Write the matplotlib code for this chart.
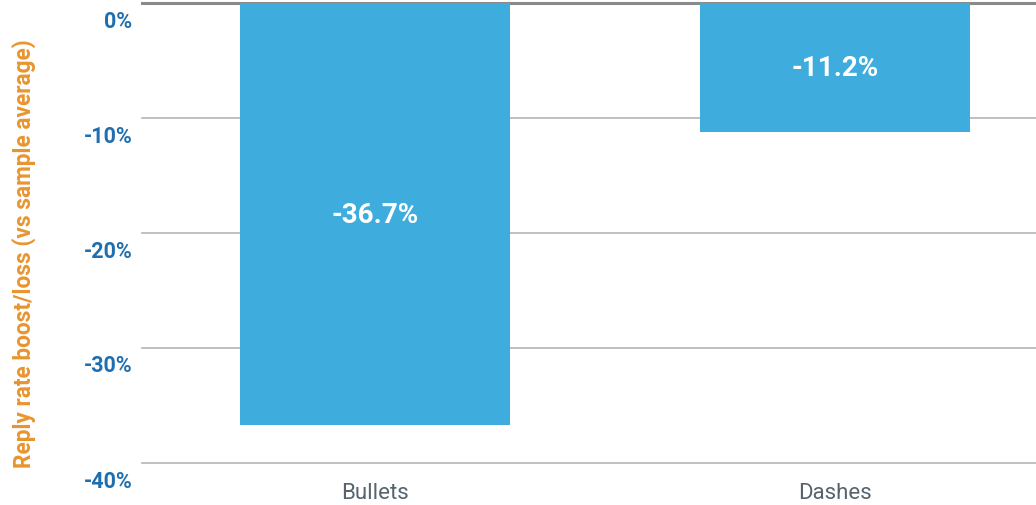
import matplotlib.pyplot as plt
from matplotlib.transforms import ScaledTranslation

# data
categories = ["Bullets", "Dashes"]
values = [-36.7, -11.2]
yticks = [0, -10, -20, -30, -40]

plt.rcParams['font.family'] = ['Roboto', 'DejaVu Sans']

fig = plt.figure(figsize=(10.36, 5.06), dpi=100)
ax = fig.add_axes([142 / 1036, 42 / 506, 1 - 142 / 1036, 460 / 506])

x = range(len(categories))
ax.bar(x, values, width=0.587, color='#3eaddd', zorder=3)
for xi, v in zip(x, values):
    ax.text(xi, v / 2, f"{v:.1f}%", ha='center', va='center',
            color='white', fontsize=20, fontweight='bold', zorder=4)

ax.set_xlim(-0.507, 1.437)
ax.set_ylim(-40, 0)
ax.set_yticks(yticks)
ax.set_yticklabels([f"{t}%" for t in yticks], color='#1f6fb0',
                   fontsize=15.5, fontweight='bold')
ax.set_xticks(list(x))
ax.set_xticklabels(categories, fontsize=16, color='#55646e')
ax.tick_params(axis='y', length=0, pad=7)
ax.tick_params(axis='x', length=0, pad=14)

# tick labels sit just below their gridlines
shift = ScaledTranslation(0, -0.15, fig.dpi_scale_trans)
for lbl in ax.get_yticklabels():
    lbl.set_transform(lbl.get_transform() + shift)

for t in yticks:
    if t == 0:
        ax.axhline(t, color='#8a8a8a', linewidth=2.2, zorder=2, clip_on=False)
    else:
        ax.axhline(t, color='#b5b5b5', linewidth=1.2, zorder=2, clip_on=False)

for s in ax.spines.values():
    s.set_visible(False)

ax.set_ylabel("Reply rate boost/loss (vs sample average)", color='#e8952f',
              fontsize=16.3, fontweight='bold')
ax.yaxis.set_label_coords(-106 / 894, 0.457)

fig.savefig("out.png", dpi=100)
